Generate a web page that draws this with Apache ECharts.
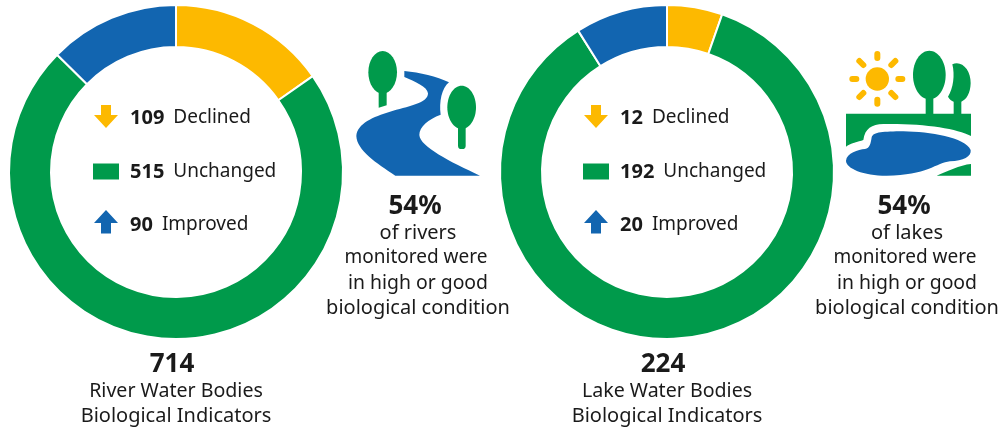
<!DOCTYPE html>
<html><head><meta charset="utf-8">
<style>html,body{margin:0;padding:0;background:#fff}#c{width:1003px;height:427px}</style>
<script src="https://cdn.jsdelivr.net/npm/echarts@6/dist/echarts.min.js"></script>
</head><body><div id="c"></div>
<script>
const categories = ['Declined','Unchanged','Improved'];
const riverValues = [109,515,90];
const lakeValues = [12,192,20];
const colors = ['#fdb900','#009a4b','#1265b0'];
const FONT = '"Noto Sans"';
const INK = '#1a1a1a';
echarts.graphic.registerShape('vec',echarts.graphic.extendShape({
  type:'vec',shape:{d:''},
  buildPath(ctx,shape){
    const t=shape.d.trim().match(/[MLCZ]|-?[\d.]+/g);let i=0;
    const n=()=>parseFloat(t[i++]);
    while(i<t.length){const c=t[i++];
      if(c==='M')ctx.moveTo(n(),n());
      else if(c==='L')ctx.lineTo(n(),n());
      else if(c==='C')ctx.bezierCurveTo(n(),n(),n(),n(),n(),n());
      else if(c==='Z')ctx.closePath();
    }
  }
}));
const chart = echarts.init(document.getElementById('c'),null,{renderer:'canvas'});

function pie(cx,vals){return {type:'pie',center:[cx,172],radius:[125,167],startAngle:90,clockwise:true,silent:true,
  label:{show:false},labelLine:{show:false},
  itemStyle:{borderColor:'#fff',borderWidth:2},
  data:categories.map((n,i)=>({name:n,value:vals[i],itemStyle:{color:colors[i]}}))};}
function txt(x,y,t,o){return {type:'text',x,y,silent:true,style:Object.assign({text:t,font:'20px '+FONT,fill:INK,align:'center',verticalAlign:'middle'},o||{})};}
function rich(x,y,n,name){return {type:'text',x,y,silent:true,style:{text:'{b|'+n+'}{r|'+name+'}',align:'left',verticalAlign:'middle',
  rich:{b:{fontFamily:FONT,fontWeight:'bold',fontSize:20,fill:INK},r:{fontFamily:FONT,fontSize:19,fill:INK,padding:[0,0,0,9]}}}};}
function path(d,fill){return {type:'vec',silent:true,shape:{d},style:{fill}};}
function oval(cx,cy,rx,ry,fill){return {type:'ellipse',silent:true,shape:{cx,cy,rx,ry},style:{fill}};}
function legendIcons(dx){return [
  {type:'group',x:dx,y:0,silent:true,children:[
   path('M101 105 L111 105 L111 115 L118 115 L106 128 L94 115 L101 115 Z',colors[0]),
   path('M93 163.5 L119 163.5 L119 179.5 L93 179.5 Z',colors[1]),
   path('M106 210 L118 223 L111 223 L111 233.5 L101 233.5 L101 223 L94 223 Z',colors[2])]}
];}
function block(cx,dx,vals,total,title){
  const els=[...legendIcons(dx)];
  const ys=[118,172,225];
  vals.forEach((v,i)=>{els.push(rich(130+dx,ys[i],v,categories[i]));});
  els.push(txt(cx-4,364.5,String(total),{font:'bold 26px '+FONT}));
  els.push(txt(cx,391,title[0],{font:'19.6px '+FONT}));
  els.push(txt(cx,416,title[1]));
  return els;
}
const riverIcon={type:'group',x:340,y:30,scaleX:1/3,scaleY:1/3,silent:true,children:[
  path('M193 123 C240 127 290 140 327 157 C305 175 297 215 302 254 C265 268 238 290 238 315 C240 350 330 395 420 437 L166 437 C110 400 50 360 49 318 C52 280 100 260 150 245 C200 230 265 220 264 190 C262 170 225 155 193 141 Z',colors[2]),
  oval(128,127,43,64,colors[1]),
  path('M116 180 L140 180 L140 226 L116 233 Z',colors[1]),
  oval(365,232,43,65,colors[1]),
  {type:'rect',silent:true,shape:{x:354,y:285,width:23,height:72,r:10},style:{fill:colors[1]}}
]};
const rays=[[142,72,142,84],[142,209,142,221],[67,147,79,147],[205,147,217,147],[88,93,100,105],[196,93,184,105],[88,201,100,189],[196,201,184,189]];
const lakeIcon={type:'group',x:830,y:30,scaleX:1/3,scaleY:1/3,silent:true,children:[
  {type:'circle',silent:true,shape:{cx:142,cy:147,r:35},style:{fill:colors[0]}},
  ...rays.map(r=>({type:'line',silent:true,shape:{x1:r[0],y1:r[1],x2:r[2],y2:r[3]},style:{stroke:colors[0],lineWidth:18,lineCap:'round'}})),
  oval(298,135,49,73,colors[1]),
  path('M287 190 L310 190 L310 255 L287 255 Z',colors[1]),
  path('M367 103 C395 90 423 120 422 160 C421 190 410 208 394 215 L394 255 L371 255 L371 215 C365 213 358 208 354 200 C370 175 375 135 367 103 Z',colors[1]),
  path('M48 251 L423 251 L423 318 C380 295 280 280 160 282 C125 283 105 295 100 330 C85 335 60 340 48 350 Z',colors[1]),
  path('M320 437 C350 425 390 405 423 402 L423 437 Z',colors[1]),
  path('M125 322 C130 305 160 305 220 304 C300 305 405 322 422 360 C425 380 400 392 360 394 C320 398 290 437 170 437 C100 437 48 415 48 392 C50 370 85 358 105 357 C120 355 122 340 125 322 Z',colors[2])
]};
function note(cx,w){return [
  txt(cx-3,206.5,'54%',{font:'bold 26px '+FONT}),
  txt(cx,233,'of '+w),
  txt(cx-2,258,'monitored were',{font:'19px '+FONT}),
  txt(cx,283,'in high or good',{font:'19.4px '+FONT}),
  txt(cx,308,'biological condition')
];}
chart.setOption({animation:false,backgroundColor:'#fff',
 series:[pie(176,riverValues),pie(667,lakeValues)],
 graphic:{elements:[
  ...block(176,0,riverValues,714,['River Water Bodies','Biological Indicators']),
  ...block(667,490,lakeValues,224,['Lake Water Bodies','Biological Indicators']),
  riverIcon,lakeIcon,...note(418,'rivers'),...note(907,'lakes')
 ]}
});
</script></body></html>
